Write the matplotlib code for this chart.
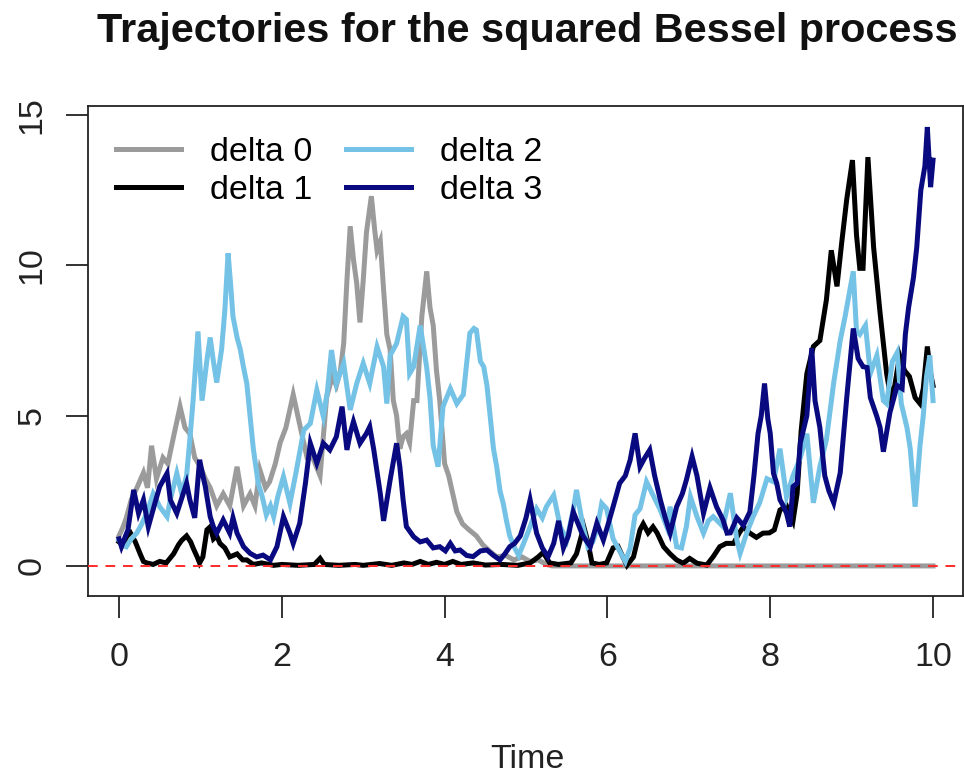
import matplotlib
matplotlib.use("Agg")
import matplotlib.pyplot as plt
from matplotlib.lines import Line2D

plt.rcParams['font.family'] = ['Liberation Sans', 'DejaVu Sans']

# --- squared Bessel trajectories (time, value) ---
t0 = [0.00, 0.05, 0.09, 0.15, 0.22, 0.30, 0.35, 0.40, 0.46, 0.54, 0.60, 0.67, 0.75, 0.81, 0.87, 0.93,
      1.00, 1.06, 1.12, 1.20, 1.28, 1.36, 1.45, 1.53, 1.61, 1.67, 1.73, 1.80, 1.85, 1.92, 1.98, 2.05,
      2.14, 2.22, 2.31, 2.38, 2.47, 2.55, 2.62, 2.67, 2.72, 2.76, 2.80, 2.84, 2.88, 2.92, 2.96, 3.00,
      3.04, 3.10, 3.14, 3.17, 3.21, 3.25, 3.29, 3.33, 3.37, 3.41, 3.45, 3.49, 3.53, 3.57, 3.62, 3.66,
      3.72, 3.78, 3.82, 3.86, 3.90, 3.94, 4.00, 4.05, 4.10, 4.15, 4.22, 4.30, 4.39, 4.47, 4.55, 4.64,
      4.75, 4.85, 4.95, 5.05, 5.15, 5.25, 5.32, 10.0]
v0 = [1.0, 1.3, 1.6, 2.2, 2.6, 3.1, 2.6, 4.0, 2.9, 3.6, 3.4, 4.3, 5.3, 4.6, 4.4, 3.6,
      3.3, 2.9, 2.6, 2.0, 2.4, 2.0, 3.3, 2.0, 2.4, 2.0, 3.2, 2.6, 2.8, 3.4, 4.1, 4.6,
      5.7, 4.7, 3.6, 3.6, 3.0, 5.6, 6.3, 6.0, 6.5, 7.4, 9.5, 11.3, 10.2, 9.4, 8.1, 9.5,
      11.1, 12.3, 11.2, 10.5, 10.8, 9.2, 7.7, 7.2, 5.5, 5.0, 3.9, 4.3, 4.4, 4.1, 5.5, 5.5,
      8.3, 9.8, 8.6, 8.0, 6.5, 5.5, 3.4, 3.0, 2.4, 1.8, 1.4, 1.2, 1.0, 0.7, 0.5, 0.3,
      0.35, 0.2, 0.3, 0.15, 0.2, 0.05, 0.0, 0.0]

t1 = [0.00, 0.05, 0.10, 0.14, 0.20, 0.26, 0.30, 0.34, 0.42, 0.50, 0.58, 0.67, 0.73, 0.77, 0.83, 0.88,
      0.91, 0.96, 0.99, 1.03, 1.08, 1.12, 1.16, 1.20, 1.24, 1.30, 1.36, 1.45, 1.52, 1.57, 1.65, 1.75,
      1.90, 2.00, 2.20, 2.40, 2.47, 2.52, 2.70, 2.90, 3.00, 3.20, 3.35, 3.50, 3.60, 3.70, 3.80, 3.90,
      4.00, 4.10, 4.20, 4.35, 4.50, 4.70, 4.90, 5.05, 5.15, 5.21, 5.29, 5.40, 5.55, 5.62, 5.66, 5.71,
      5.76, 5.81, 5.90, 5.99, 6.07, 6.13, 6.19, 6.24, 6.32, 6.40, 6.44, 6.50, 6.56, 6.61, 6.69, 6.77,
      6.85, 6.93, 7.01, 7.10, 7.22, 7.30, 7.38, 7.46, 7.55, 7.62, 7.67, 7.75, 7.83, 7.91, 7.99, 8.05,
      8.12, 8.20, 8.28, 8.33, 8.38, 8.45, 8.53, 8.61, 8.69, 8.75, 8.82, 8.88, 8.94, 9.01, 9.06, 9.10,
      9.14, 9.20, 9.27, 9.35, 9.43, 9.48, 9.53, 9.59, 9.65, 9.71, 9.78, 9.84, 9.88, 9.93, 9.97, 10.0]
v1 = [0.8, 0.7, 1.0, 1.1, 0.8, 0.4, 0.15, 0.1, 0.05, 0.15, 0.1, 0.4, 0.7, 0.85, 1.0, 0.8,
      0.6, 0.3, 0.1, 0.3, 1.2, 1.3, 0.9, 1.0, 0.75, 0.6, 0.3, 0.4, 0.2, 0.2, 0.05, 0.1,
      0.02, 0.05, 0.02, 0.05, 0.25, 0.05, 0.02, 0.05, 0.02, 0.08, 0.02, 0.1, 0.05, 0.15, 0.05, 0.12,
      0.05, 0.15, 0.05, 0.1, 0.03, 0.05, 0.02, 0.1, 0.3, 0.45, 0.1, 0.05, 0.1, 0.4, 0.8, 1.3,
      0.8, 0.1, 0.05, 0.1, 0.6, 0.65, 0.3, 0.02, 0.3, 1.2, 1.4, 1.1, 1.3, 1.1, 0.64, 0.4,
      0.2, 0.09, 0.25, 0.09, 0.03, 0.31, 0.64, 0.75, 0.75, 1.1, 1.3, 1.09, 0.95, 1.09, 1.1, 1.2,
      1.86, 2.0, 1.5, 2.4, 4.5, 6.4, 7.3, 7.5, 8.85, 10.5, 9.3, 10.8, 12.2, 13.5, 11.0, 9.9,
      9.9, 13.6, 10.6, 8.4, 6.4, 5.6, 6.0, 7.0, 6.5, 6.3, 5.6, 5.4, 5.9, 7.3, 6.4, 6.0]

t2 = [0.00, 0.05, 0.09, 0.15, 0.22, 0.28, 0.34, 0.42, 0.50, 0.59, 0.63, 0.71, 0.77, 0.83, 0.87, 0.91,
      0.97, 1.02, 1.08, 1.12, 1.16, 1.20, 1.26, 1.30, 1.34, 1.37, 1.40, 1.45, 1.49, 1.53, 1.57, 1.61,
      1.65, 1.71, 1.76, 1.81, 1.86, 1.90, 1.95, 2.02, 2.10, 2.18, 2.27, 2.35, 2.43, 2.51, 2.56, 2.61,
      2.67, 2.76, 2.84, 2.92, 3.00, 3.08, 3.17, 3.25, 3.29, 3.33, 3.41, 3.49, 3.53, 3.57, 3.62, 3.70,
      3.78, 3.82, 3.86, 3.92, 3.98, 4.07, 4.15, 4.23, 4.31, 4.36, 4.39, 4.44, 4.48, 4.52, 4.56, 4.60,
      4.64, 4.68, 4.72, 4.76, 4.80, 4.86, 4.91, 4.97, 5.05, 5.13, 5.20, 5.25, 5.34, 5.42, 5.50, 5.58,
      5.62, 5.70, 5.76, 5.82, 5.87, 5.93, 5.99, 6.07, 6.16, 6.22, 6.28, 6.34, 6.40, 6.48, 6.57, 6.65,
      6.73, 6.77, 6.85, 6.91, 6.97, 7.02, 7.10, 7.18, 7.24, 7.30, 7.42, 7.51, 7.59, 7.63, 7.71, 7.79,
      7.87, 7.96, 8.04, 8.12, 8.20, 8.28, 8.37, 8.45, 8.53, 8.61, 8.69, 8.78, 8.86, 8.92, 9.02, 9.06,
      9.10, 9.17, 9.23, 9.31, 9.39, 9.43, 9.50, 9.56, 9.61, 9.68, 9.72, 9.78, 9.84, 9.88, 9.92, 9.96,
      10.0]
v2 = [0.85, 0.7, 0.64, 0.9, 1.1, 1.4, 1.75, 2.4, 1.97, 1.64, 2.2, 3.08, 2.4, 3.0, 4.2, 5.5,
      7.8, 5.5, 6.85, 7.6, 6.8, 6.1, 7.2, 8.5, 10.4, 9.4, 8.3, 7.6, 7.2, 6.6, 6.07, 5.0,
      3.9, 2.75, 2.3, 1.7, 2.0, 1.64, 2.3, 2.97, 2.08, 3.19, 4.52, 4.74, 5.85, 4.97, 5.8, 7.18,
      6.07, 6.74, 5.19, 6.07, 6.74, 6.07, 7.29, 6.63, 5.4, 7.0, 7.4, 8.3, 8.2, 6.4, 6.63, 8.0,
      6.6, 5.6, 4.0, 3.3, 5.3, 5.9, 5.4, 5.7, 7.74, 7.9, 7.85, 6.8, 6.63, 6.0, 4.97, 3.9,
      3.3, 2.5, 2.08, 1.5, 1.0, 0.6, 0.35, 0.75, 1.3, 1.9, 1.6, 1.97, 2.35, 1.31, 0.86, 1.86,
      2.53, 1.31, 0.64, 0.8, 1.2, 2.08, 1.9, 0.9, 0.45, 0.15, 0.6, 1.7, 1.9, 2.8, 2.3, 1.86,
      1.3, 1.97, 0.64, 0.6, 1.31, 2.3, 1.64, 1.09, 1.5, 1.64, 1.31, 2.42, 0.86, 0.42, 1.09, 1.64,
      2.1, 2.9, 2.8, 3.9, 2.3, 3.0, 3.6, 4.4, 2.1, 3.3, 4.2, 6.1, 7.5, 8.3, 9.8, 7.8,
      7.7, 8.0, 6.4, 7.0, 5.5, 5.4, 6.8, 7.1, 5.4, 4.6, 3.9, 1.97, 4.0, 5.0, 6.3, 7.0,
      5.5]

t3 = [0.00, 0.03, 0.08, 0.11, 0.18, 0.24, 0.30, 0.36, 0.44, 0.50, 0.59, 0.63, 0.71, 0.79, 0.83, 0.87,
      0.93, 0.99, 1.03, 1.06, 1.12, 1.16, 1.20, 1.28, 1.36, 1.40, 1.45, 1.53, 1.61, 1.69, 1.77, 1.86,
      1.94, 2.02, 2.10, 2.14, 2.22, 2.29, 2.35, 2.43, 2.51, 2.59, 2.67, 2.74, 2.80, 2.84, 2.88, 2.96,
      3.04, 3.08, 3.13, 3.21, 3.25, 3.33, 3.41, 3.45, 3.49, 3.53, 3.62, 3.70, 3.78, 3.86, 3.94, 4.01,
      4.07, 4.13, 4.19, 4.27, 4.35, 4.44, 4.52, 4.60, 4.68, 4.74, 4.80, 4.86, 4.93, 5.00, 5.05, 5.13,
      5.20, 5.27, 5.34, 5.40, 5.46, 5.52, 5.58, 5.64, 5.70, 5.79, 5.87, 5.95, 6.01, 6.07, 6.15, 6.22,
      6.28, 6.34, 6.40, 6.46, 6.52, 6.58, 6.65, 6.71, 6.77, 6.85, 6.92, 6.97, 7.04, 7.10, 7.18, 7.26,
      7.34, 7.42, 7.47, 7.51, 7.59, 7.67, 7.75, 7.80, 7.85, 7.89, 7.93, 7.97, 8.00, 8.04, 8.08, 8.12,
      8.16, 8.20, 8.24, 8.28, 8.33, 8.37, 8.45, 8.51, 8.55, 8.61, 8.67, 8.72, 8.78, 8.86, 8.94, 9.02,
      9.08, 9.14, 9.19, 9.23, 9.31, 9.35, 9.39, 9.47, 9.56, 9.62, 9.66, 9.70, 9.76, 9.80, 9.85, 9.90,
      9.93, 9.97, 10.0]
v3 = [0.9, 0.64, 1.0, 1.2, 2.53, 1.75, 2.2, 1.3, 2.08, 2.64, 3.08, 2.2, 1.75, 2.42, 2.75, 2.2,
      1.6, 3.53, 3.0, 2.64, 1.64, 1.3, 1.09, 1.53, 1.09, 1.6, 1.09, 0.64, 0.42, 0.3, 0.36, 0.2,
      0.64, 1.64, 1.09, 0.75, 1.42, 2.75, 4.08, 3.42, 4.08, 3.86, 4.3, 5.3, 3.86, 4.41, 4.8, 4.08,
      4.41, 4.63, 3.86, 2.4, 1.5, 2.85, 4.08, 3.3, 2.2, 1.31, 0.97, 0.8, 0.86, 0.6, 0.64, 0.5,
      0.75, 0.5, 0.53, 0.35, 0.31, 0.5, 0.53, 0.35, 0.2, 0.4, 0.64, 0.75, 1.0, 1.6, 2.2, 1.09,
      0.6, 0.3, 0.75, 1.5, 0.6, 1.0, 1.8, 1.4, 1.0, 0.64, 1.42, 0.86, 1.4, 1.97, 2.75, 3.0,
      3.53, 4.41, 3.3, 3.6, 3.86, 3.0, 2.2, 1.6, 1.09, 1.97, 2.4, 2.86, 3.64, 3.0, 1.75, 2.6,
      1.97, 1.53, 1.09, 1.1, 1.6, 1.35, 1.8, 3.0, 4.4, 5.0, 6.07, 4.9, 4.41, 3.08, 2.75, 2.2,
      2.0, 1.75, 1.31, 2.64, 2.75, 4.1, 5.0, 7.25, 5.5, 4.6, 3.0, 2.5, 2.1, 3.1, 5.6, 7.9,
      6.9, 6.63, 6.6, 5.6, 4.97, 4.6, 3.8, 5.1, 6.0, 5.9, 7.7, 8.6, 9.6, 10.6, 12.5, 13.3,
      14.6, 12.6, 13.5]

series_labels = ["delta 0", "delta 1", "delta 2", "delta 3"]
series_colors = ["#9b9b9b", "#000000", "#74c2e6", "#0a0a80"]
x_ticks = [0, 2, 4, 6, 8, 10]
y_ticks = [0, 5, 10, 15]

W, H = 964, 780
fig = plt.figure(figsize=(W / 100, H / 100), dpi=100)
left, right, top, bottom = 88, 962.5, 106, 596
ax = fig.add_axes([left / W, 1 - bottom / H, (right - left) / W, (bottom - top) / H])

for (t, v), col in zip([(t0, v0), (t1, v1), (t2, v2), (t3, v3)], series_colors):
    ax.plot(t, v, color=col, lw=3.6, solid_joinstyle='miter', zorder=2)

ax.axhline(0, color="#ff2a2a", lw=1.4, ls=(0, (5, 4)), zorder=3)

ax.set_xlim(-0.381, 10.362)
ax.set_ylim(-1.0, 15.3)
ax.set_xticks(x_ticks)
ax.set_yticks(y_ticks)
ax.set_xticklabels([str(x) for x in x_ticks])
ax.set_yticklabels([str(y) for y in y_ticks], rotation=90, va='center')
ax.tick_params(axis='both', direction='out', length=16, width=1.3, colors='#222222',
               labelsize=24.5)
ax.tick_params(axis='x', pad=17)
ax.tick_params(axis='y', pad=13)
for s in ax.spines.values():
    s.set_linewidth(1.3)
    s.set_color('#222222')

handles = [Line2D([], [], color=c, lw=3.6) for c in series_colors]
ax.legend(handles, series_labels, ncol=2, loc='upper left',
          bbox_to_anchor=(116 / W, 1 - 137 / H), bbox_transform=fig.transFigure,
          frameon=False, fontsize=24.5, handlelength=1.9, handletextpad=0.85,
          columnspacing=1.0, labelspacing=0.2, borderaxespad=0, borderpad=0)

fig.text(527 / W, 1 - 31 / H, "Trajectories for the squared Bessel process",
         ha='center', va='center', fontsize=29.8, fontweight='bold', color='#111111')
fig.text(527 / W, 1 - 760 / H, "Time", ha='center', va='center', fontsize=24.5,
         color='#222222')

fig.savefig("out.png", dpi=100)
